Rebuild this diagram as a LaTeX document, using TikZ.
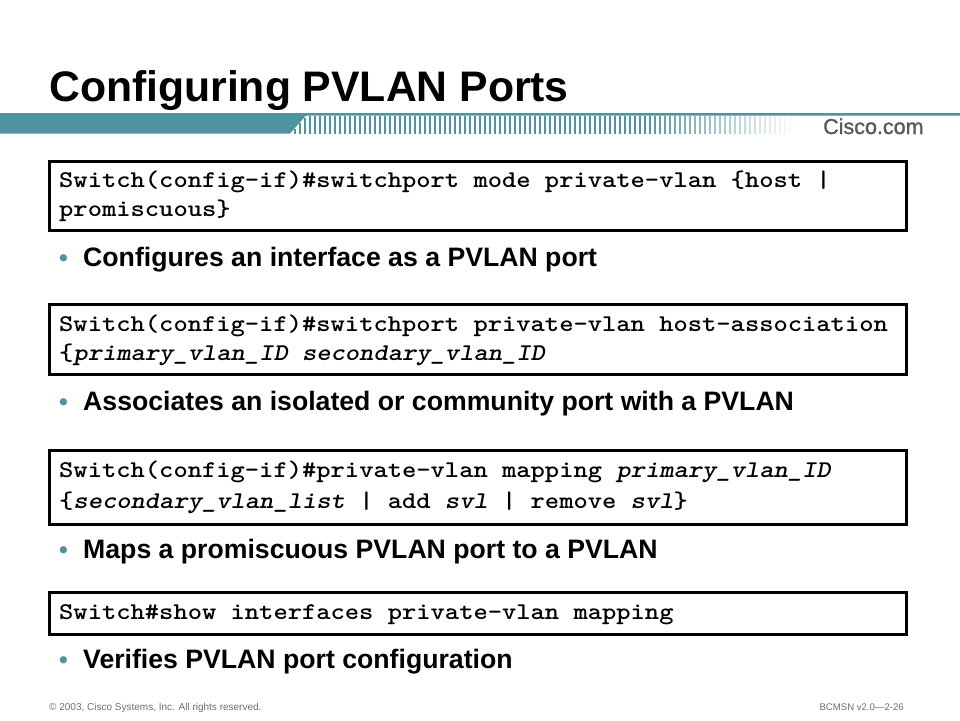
\documentclass[tikz,border=0pt]{standalone}
\usepackage{fontspec}
\setmainfont{Liberation Sans}
\setmonofont[FakeStretch=1.134]{Latin Modern Mono Light}
\newfontfamily\logofont[FakeBold=1.2]{Liberation Sans}
\definecolor{teal}{RGB}{78,148,160}
\definecolor{foot}{RGB}{110,110,110}
\tikzset{
 x=1pt,y=-1pt,
 cmdbox/.style={draw=black,line width=3pt,fill=white,inner sep=0pt,anchor=north west},
 cmdtext/.style={anchor=base west,inner sep=0pt,font=\fontsize{24}{28}\selectfont\ttfamily\bfseries},
 bullettext/.style={anchor=base west,inner sep=0pt,font=\fontsize{26.65}{30}\selectfont\bfseries},
 bulletmark/.style={anchor=base west,inner sep=0pt,text=teal,font=\fontsize{25}{30}\selectfont\bfseries},
 foottext/.style={inner sep=0pt,text=foot,font=\fontsize{9.6}{12}\selectfont}
}
\begin{document}
\begin{tikzpicture}
\useasboundingbox (0,0) rectangle (960,720);
\fill[white] (0,0) rectangle (960,720);
\node[anchor=base west,inner sep=0pt,font=\fontsize{42.7}{48}\selectfont\bfseries] (title) at (49,101) {Configuring PVLAN Ports};
% banner
\fill[teal] (0,113) -- (960,113) -- (960,115.5) -- (306,115.5) -- (290,133.5) -- (0,133.5) -- cycle;
\foreach \i in {0,...,100}{
  \pgfmathsetmacro{\px}{294+\i*5}
  \pgfmathsetmacro{\op}{\i<70?100:max(0,100-(\i-70)*3.3)}
  \pgfmathsetmacro{\ty}{max(115.5,133.5-(\px-290)*18/16)}
  \fill[teal!\op!white] (\px,\ty) rectangle (\px+2.4,133.5);
}
\node[anchor=base west,inner sep=0pt,text=black!65,font=\fontsize{21.5}{24}\selectfont\logofont] (logo) at (823,134) {Cisco.com};
% box 1
\node[cmdbox,minimum width=857,minimum height=69] (b1) at (47.5,159.5) {};
\node[cmdtext] (c1a) at (59,187) {Switch(config-if)\#switchport mode private-vlan \{host |};
\node[cmdtext] (c1b) at (59,216) {promiscuous\}};
\node[bulletmark] (m1) at (59,266) {•};
\node[bullettext] (t1) at (83,266) {Configures an interface as a PVLAN port};
% box 2
\node[cmdbox,minimum width=857,minimum height=70] (b2) at (47.5,303) {};
\node[cmdtext] (c2a) at (59,331) {Switch(config-if)\#switchport private-vlan host-association};
\node[cmdtext] (c2b) at (59,360) {\{\textit{primary\_vlan\_ID secondary\_vlan\_ID}};
\node[bulletmark] (m2) at (59,410) {•};
\node[bullettext] (t2) at (83,410) {Associates an isolated or community port with a PVLAN};
% box 3
\node[cmdbox,minimum width=857,minimum height=74] (b3) at (47.5,449) {};
\node[cmdtext] (c3a) at (59,477) {Switch(config-if)\#private-vlan mapping \textit{primary\_vlan\_ID}};
\node[cmdtext] (c3b) at (59,508) {\{\textit{secondary\_vlan\_list} | add \textit{svl} | remove \textit{svl}\}};
\node[bulletmark] (m3) at (59,558) {•};
\node[bullettext] (t3) at (83,558) {Maps a promiscuous PVLAN port to a PVLAN};
% box 4
\node[cmdbox,minimum width=857,minimum height=42] (b4) at (47.5,591) {};
\node[cmdtext] (c4) at (59,619) {Switch\#show interfaces private-vlan mapping};
\node[bulletmark] (m4) at (59,668) {•};
\node[bullettext] (t4) at (83,668) {Verifies PVLAN port configuration};
% footer
\node[foottext,anchor=base west,font=\fontsize{10}{12}\selectfont] (f1) at (49,710) {© 2003, Cisco Systems, Inc. All rights reserved.};
\node[foottext,anchor=base east] (f2) at (904,710) {BCMSN v2.0—2-26};
\end{tikzpicture}
\end{document}
